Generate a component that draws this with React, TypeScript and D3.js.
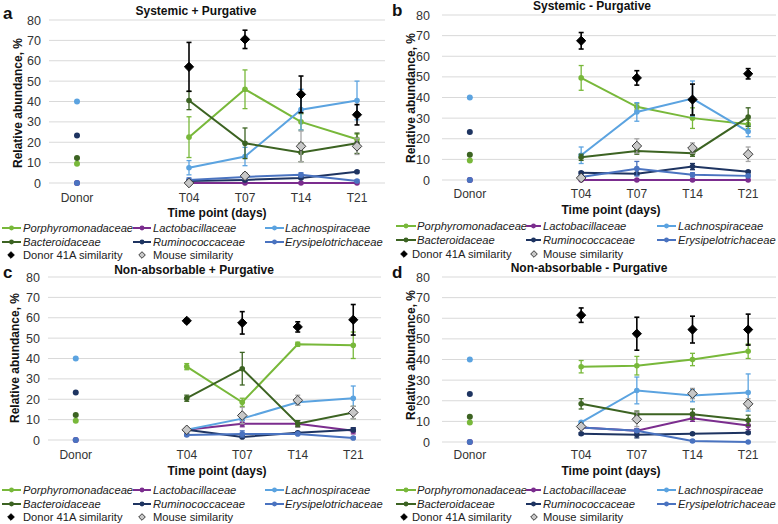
import React from "react";
import * as d3 from "d3";

const categories = ["Donor", "", "T04", "T07", "T14", "T21"];
const timePoints = ["T04", "T07", "T14", "T21"];
const yTicks = [0, 10, 20, 30, 40, 50, 60, 70, 80];

const families = [
  "Porphyromonadaceae",
  "Lactobacillaceae",
  "Lachnospiraceae",
  "Bacteroidaceae",
  "Ruminococcaceae",
  "Erysipelotrichaceae",
];
const similarityNames = ["Donor 41A similarity", "Mouse similarity"];
const familyColors = ["#78b83a", "#7b2d8e", "#5ba3e0", "#3c6322", "#1e3461", "#4a73c0"];

// Donor values (same in every panel), in family order
const donorValues = [9.5, 0, 40, 12.3, 23.3, 0];

// Order: 6 families, then Donor 41A similarity, then Mouse similarity
const sysPlusMeans = [
  [22.5, 46, 30, 21.5],
  [0, 0, 0, 0],
  [7.5, 13, 36, 40.5],
  [40.5, 19.5, 15, 19.5],
  [1, 1.5, 2.5, 5.5],
  [1.5, 3, 4, 1],
  [57, 70.5, 43.5, 33.5],
  [0, 3.5, 18, 18],
];
const sysPlusErrs = [
  [10, 9.5, 4, 2.5],
  [0, 0, 0, 0],
  [3.5, 4.5, 10, 9.5],
  [4.5, 7.5, 4.5, 5],
  [0.5, 0.5, 0.5, 0.5],
  [1, 1, 1, 0.5],
  [12, 4.5, 9, 5],
  [0.5, 1.5, 7.5, 4],
];

const sysMinusMeans = [
  [49.5, 35.5, 30, 27],
  [0, 0, 0, 0],
  [12, 33, 39.5, 23.5],
  [11, 14, 13, 30.5],
  [3.5, 3, 6.5, 4],
  [1.5, 5.5, 2.5, 2],
  [67.5, 49.5, 39, 51.5],
  [1, 16.5, 15.5, 12.5],
];
const sysMinusErrs = [
  [6, 1.5, 5, 2],
  [0, 0, 0, 0],
  [4, 4.5, 8.5, 2.5],
  [1.5, 1.5, 1.5, 4.5],
  [0.5, 0.5, 1.5, 0.5],
  [1, 3.5, 1, 0.5],
  [4, 3.5, 7.5, 2.5],
  [0.5, 3.5, 2.5, 3.5],
];

const nonPlusMeans = [
  [36, 18.5, 47, 46.5],
  [5, 8, 8, 4.5],
  [5, 10.5, 18.5, 20.5],
  [20.5, 35, 8, 13.5],
  [5, 1.5, 3.5, 5],
  [2.5, 3, 3, 1],
  [58.5, 57.5, 55.5, 59],
  [5, 12, 19.5, 13.5],
];
const nonPlusErrs = [
  [1.5, 2, 1, 6.5],
  [0.5, 1.5, 1.5, 1.5],
  [0.5, 1, 1.5, 6],
  [1.5, 8, 1.5, 3],
  [0.5, 0.5, 0.5, 1],
  [0.5, 1.5, 0.5, 0.5],
  [1, 5.5, 2.5, 7.5],
  [1, 4, 2.5, 3],
];

const nonMinusMeans = [
  [36.5, 37, 40, 44],
  [7, 5.5, 11.5, 8],
  [9.5, 25, 22.5, 24],
  [18.5, 13.5, 13.5, 10.5],
  [4, 3.5, 4, 4.5],
  [7, 5.5, 0.5, 0],
  [61.5, 52.5, 54.5, 54.5],
  [7.5, 11, 23.5, 18.5],
];
const nonMinusErrs = [
  [3, 4.5, 3, 3.5],
  [0.5, 1, 1.5, 2],
  [0.5, 6.5, 3, 9],
  [2.5, 1.5, 2.5, 2.5],
  [0.5, 1.5, 0.5, 0.5],
  [0.5, 0.5, 0.5, 0.2],
  [3.5, 8, 6.5, 7.5],
  [0.5, 3.5, 2.5, 2.5],
];

const FONT = "'Liberation Sans', Arial, sans-serif";

type Layout = {
  letter: string;
  title: string;
  ox: number;
  x0: number;
  x1: number;
  y80: number;
  y0: number;
  letterY: number;
  titleX: number;
  titleY: number;
  yTitleX: number;
  yTitleY: number;
  tickRight: number;
  xLabY: number;
  xTitleX: number;
  xTitleY: number;
  legRows: number[];
  legLine: number[][];
  legText: number[];
  legDiamond: number[];
  legSimText: number[];
};

function Diamond({ x, y, mouse, s }: { x: number; y: number; mouse: boolean; s: number }) {
  return (
    <path
      d={`M${x},${y - s}L${x + s},${y}L${x},${y + s}L${x - s},${y}Z`}
      fill={mouse ? "#c8c8c8" : "#000"}
      stroke={mouse ? "#3a3a3a" : "#000"}
      strokeWidth={1}
    />
  );
}

function Panel({ L, means, errs }: { L: Layout; means: number[][]; errs: number[][] }) {
  const x = d3.scalePoint<string>().domain(categories).range([L.x0, L.x1]).padding(0.5);
  const y = d3.scaleLinear().domain([0, 80]).range([L.y0, L.y80]);
  const line = d3
    .line<number>()
    .x((_, i) => x(timePoints[i]) as number)
    .y((d) => y(d));
  const order = [0, 1, 2, 3, 4, 5, 6, 7];
  return (
    <g>
      {yTicks.map((t) => (
        <g key={t}>
          <line x1={L.x0} x2={L.x1} y1={y(t)} y2={y(t)} stroke="#d9d9d9" strokeWidth={1} />
          <text x={L.tickRight} y={y(t) + 4.5} textAnchor="end" fontSize={12.5} fill="#333" fontFamily={FONT}>
            {t}
          </text>
        </g>
      ))}
      {categories
        .filter((c) => c !== "")
        .map((c) => (
          <text key={c} x={x(c)} y={L.xLabY} textAnchor="middle" fontSize={12} fill="#333" fontFamily={FONT}>
            {c}
          </text>
        ))}
      <text x={L.xTitleX} y={L.xTitleY} textAnchor="middle" fontSize={12} fontWeight="bold" fill="#111" fontFamily={FONT}>
        Time point (days)
      </text>
      <text
        transform={`translate(${L.yTitleX},${L.yTitleY}) rotate(-90)`}
        textAnchor="middle"
        fontSize={12}
        fontWeight="bold"
        fill="#111"
        fontFamily={FONT}
      >
        Relative abundance, %
      </text>
      <text x={L.titleX} y={L.titleY} textAnchor="middle" fontSize={12} fontWeight="bold" fill="#111" fontFamily={FONT}>
        {L.title}
      </text>
      <text x={L.ox + 3} y={L.letterY} fontSize={17} fontWeight="bold" fill="#111" fontFamily={FONT}>
        {L.letter}
      </text>
      {/* Donor points */}
      {donorValues.map((v, i) => (
        <circle key={"d" + i} cx={x("Donor") as number} cy={y(v)} r={3} fill={familyColors[i]} />
      ))}
      {order.map((si) => {
        const sim = si >= 6;
        const color = si === 6 ? "#000" : si === 7 ? "#a6a6a6" : familyColors[si];
        return (
          <g key={si}>
            {means[si].map((m, i) => {
              const e = errs[si][i];
              if (e <= 0) return null;
              const cx = x(timePoints[i]) as number;
              return (
                <g key={i} stroke={color} strokeWidth={si === 6 ? 1.6 : 1.3}>
                  <line x1={cx} x2={cx} y1={y(m - e)} y2={y(m + e)} />
                  <line x1={cx - 2.5} x2={cx + 2.5} y1={y(m - e)} y2={y(m - e)} />
                  <line x1={cx - 2.5} x2={cx + 2.5} y1={y(m + e)} y2={y(m + e)} />
                </g>
              );
            })}
            {!sim && <path d={line(means[si]) || ""} fill="none" stroke={color} strokeWidth={2} />}
            {means[si].map((m, i) => {
              const cx = x(timePoints[i]) as number;
              return sim ? (
                <Diamond key={i} x={cx} y={y(m)} mouse={si === 7} s={si === 7 ? 4.8 : 4.6} />
              ) : (
                <circle key={i} cx={cx} cy={y(m)} r={2.8} fill={color} />
              );
            })}
          </g>
        );
      })}
      {/* Legend */}
      {families.map((f, i) => {
        const row = Math.floor(i / 3);
        const col = i % 3;
        const ly = L.legRows[row];
        const [lx0, lx1] = L.legLine[col];
        return (
          <g key={f}>
            <line x1={lx0} x2={lx1} y1={ly} y2={ly} stroke={familyColors[i]} strokeWidth={2} />
            <circle cx={(lx0 + lx1) / 2} cy={ly} r={2.4} fill={familyColors[i]} />
            <text x={L.legText[col]} y={ly + 4} fontSize={11.2} fontStyle="italic" fill="#222" fontFamily={FONT}>
              {f}
            </text>
          </g>
        );
      })}
      {similarityNames.map((s, i) => (
        <g key={s}>
          <Diamond x={L.legDiamond[i]} y={L.legRows[2]} mouse={i === 1} s={3.3} />
          <text x={L.legSimText[i]} y={L.legRows[2] + 4} fontSize={11.2} fill="#222" fontFamily={FONT}>
            {s}
          </text>
        </g>
      ))}
    </g>
  );
}

const layoutA: Layout = {
  letter: "a", title: "Systemic + Purgative", ox: 0, x0: 49, x1: 385, y80: 20, y0: 183,
  letterY: 19, titleX: 196, titleY: 15, yTitleX: 22, yTitleY: 103, tickRight: 41,
  xLabY: 202, xTitleX: 217, xTitleY: 217, legRows: [228, 242, 255],
  legLine: [[2, 21], [133, 151], [265, 284]], legText: [23, 153, 285], legDiamond: [11, 142],
  legSimText: [23, 153],
};
const layoutB: Layout = {
  letter: "b", title: "Systemic - Purgative", ox: 389, x0: 442, x1: 776, y80: 15, y0: 180,
  letterY: 16, titleX: 592, titleY: 10, yTitleX: 415, yTitleY: 98, tickRight: 430,
  xLabY: 198, xTitleX: 611, xTitleY: 214, legRows: [226, 240, 254],
  legLine: [[396, 416], [526, 541], [657, 676]], legText: [417, 543, 678], legDiamond: [404, 534],
  legSimText: [412, 543],
};
const layoutC: Layout = {
  letter: "c", title: "Non-absorbable + Purgative", ox: 0, x0: 48, x1: 381, y80: 277, y0: 440,
  letterY: 278, titleX: 194, titleY: 274, yTitleX: 19, yTitleY: 358, tickRight: 40,
  xLabY: 459, xTitleX: 217, xTitleY: 475, legRows: [490, 504, 517],
  legLine: [[2, 21], [133, 151], [265, 284]], legText: [23, 153, 285], legDiamond: [11, 142],
  legSimText: [23, 153],
};
const layoutD: Layout = {
  letter: "d", title: "Non-absorbable - Purgative", ox: 389, x0: 442, x1: 776, y80: 277, y0: 442,
  letterY: 278, titleX: 589, titleY: 272, yTitleX: 415, yTitleY: 355, tickRight: 430,
  xLabY: 459, xTitleX: 611, xTitleY: 475, legRows: [490, 504, 517],
  legLine: [[396, 416], [526, 541], [657, 676]], legText: [417, 543, 678], legDiamond: [404, 534],
  legSimText: [412, 543],
};

export default function App() {
  return (
    <svg
      width={778}
      height={524}
      style={{ position: "absolute", left: 0, top: 0, background: "#fff" }}
      viewBox="0 0 778 524"
    >
      <rect width={778} height={524} fill="#fff" />
      <Panel L={layoutA} means={sysPlusMeans} errs={sysPlusErrs} />
      <Panel L={layoutB} means={sysMinusMeans} errs={sysMinusErrs} />
      <Panel L={layoutC} means={nonPlusMeans} errs={nonPlusErrs} />
      <Panel L={layoutD} means={nonMinusMeans} errs={nonMinusErrs} />
    </svg>
  );
}
